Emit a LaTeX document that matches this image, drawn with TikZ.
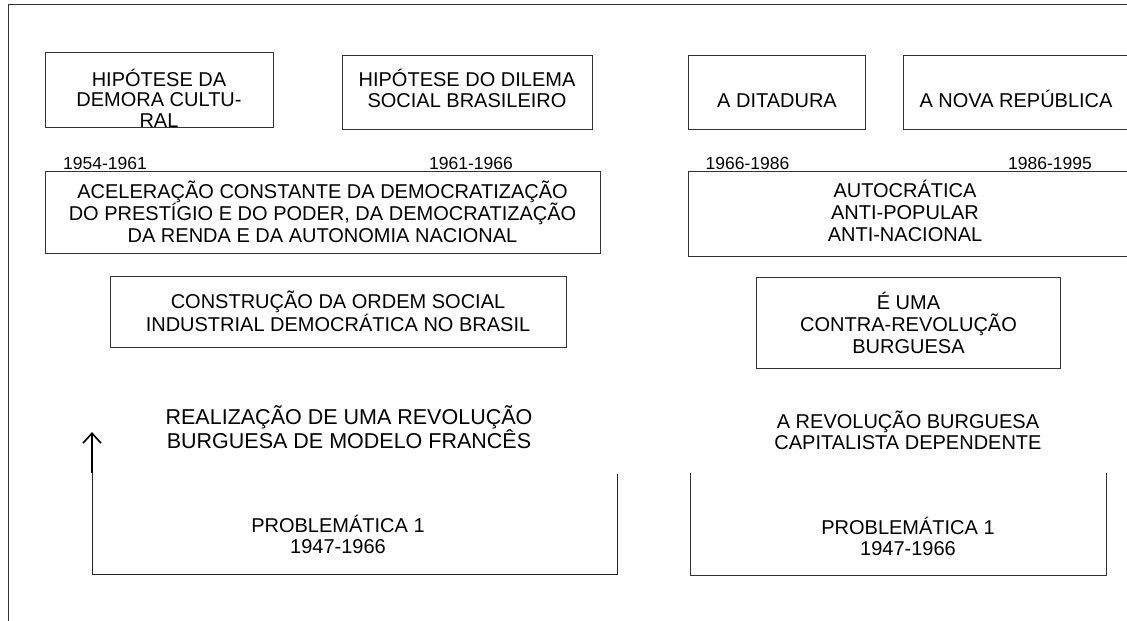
\documentclass[tikz,border=0pt]{standalone}
\usepackage{fontspec}
\setmainfont{Liberation Sans}
\usepackage{tikz}
\usetikzlibrary{arrows.meta, positioning}

\tikzset{
  caixa/.style={draw=black!80, line width=0.9pt, inner sep=0pt},
  texto/.style={align=center, inner sep=0pt},
  data/.style={inner sep=0pt, font=\fontsize{17.5}{20}\selectfont}
}

\begin{document}
\begin{tikzpicture}[>={Straight Barb[length=10pt, width=18pt]}, x=1pt, y=-1pt, font=\fontsize{20}{21}\selectfont]
\useasboundingbox (0,0) rectangle (1127,621);
\draw[black!80, line width=0.9pt] (8,621) -- (8,4.5) -- (1127,4.5);
%
\node[caixa, minimum width=228, minimum height=75] (demora) at (159,89.5) {};
\node[texto, font=\fontsize{20}{20.5}\selectfont] (demoratxt) at (159,98) {HIPÓTESE DA\\DEMORA CULTU-\\RAL};
\node[caixa, minimum width=250, minimum height=74] (dilema) at (467,92) {};
\node[texto, font=\fontsize{20}{20.5}\selectfont] (dilematxt) at (467,88.5) {HIPÓTESE DO DILEMA\\SOCIAL BRASILEIRO};
\node[caixa, minimum width=177, minimum height=74] (ditadura) at (776.5,92) {};
\node[texto] (ditaduratxt) at (777,100.5) {A DITADURA};
\node[caixa, minimum width=230, minimum height=74] (novarep) at (1018,92) {};
\node[texto] (novareptxt) at (1016,99) {A NOVA REPÚBLICA};
%
\node[data] (d1) at (105,163.5) {1954-1961};
\node[data] (d2) at (471,163.5) {1961-1966};
\node[data] (d3) at (747.5,163.5) {1966-1986};
\node[data] (d4) at (1050,163.5) {1986-1995};
%
\node[caixa, texto, minimum width=555, minimum height=82, font=\fontsize{20}{22}\selectfont] (aceleracao) at (322.5,212) {ACELERAÇÃO CONSTANTE DA DEMOCRATIZAÇÃO\\DO PRESTÍGIO E DO PODER, DA DEMOCRATIZAÇÃO\\DA RENDA E DA AUTONOMIA NACIONAL};
\node[caixa, minimum width=450, minimum height=85] (autocratica) at (913,213.5) {};
\node[texto, font=\fontsize{20}{22}\selectfont] (autocraticatxt) at (905,211) {AUTOCRÁTICA\\ANTI-POPULAR\\ANTI-NACIONAL};
%
\node[caixa, texto, minimum width=456, minimum height=71, font=\fontsize{20}{23}\selectfont] (construcao) at (338,311.5) {CONSTRUÇÃO DA ORDEM SOCIAL\\INDUSTRIAL DEMOCRÁTICA NO BRASIL};
\node[caixa, texto, minimum width=304, minimum height=91, font=\fontsize{20}{22}\selectfont] (contrarev) at (908.5,322.5) {É UMA\\CONTRA-REVOLUÇÃO\\BURGUESA};
%
\node[texto, font=\fontsize{21.5}{21}\selectfont] (realizacao) at (349,427) {REALIZAÇÃO DE UMA REVOLUÇÃO\\BURGUESA DE MODELO FRANCÊS};
\node[texto] (dependente) at (908,430) {A REVOLUÇÃO BURGUESA\\CAPITALISTA DEPENDENTE};
%
\node[texto] (prob1) at (338,534) {PROBLEMÁTICA 1\\1947-1966};
\node[texto] (prob2) at (908,536) {PROBLEMÁTICA 1\\1947-1966};
%
\coordinate (a1) at (617,474);
\coordinate (a2) at (92,473);
\coordinate (a3) at (92,432);
\draw[black!85, line width=0.9pt] (a1) |- (92,574) -- (a2);
\draw[->, line width=1.6pt] (a2) -- (a3);
\coordinate (b1) at (690,473);
\coordinate (b2) at (1106,473);
\draw[black!80, line width=0.9pt] (b1) |- (1106,575) -- (b2);
\end{tikzpicture}
\end{document}
